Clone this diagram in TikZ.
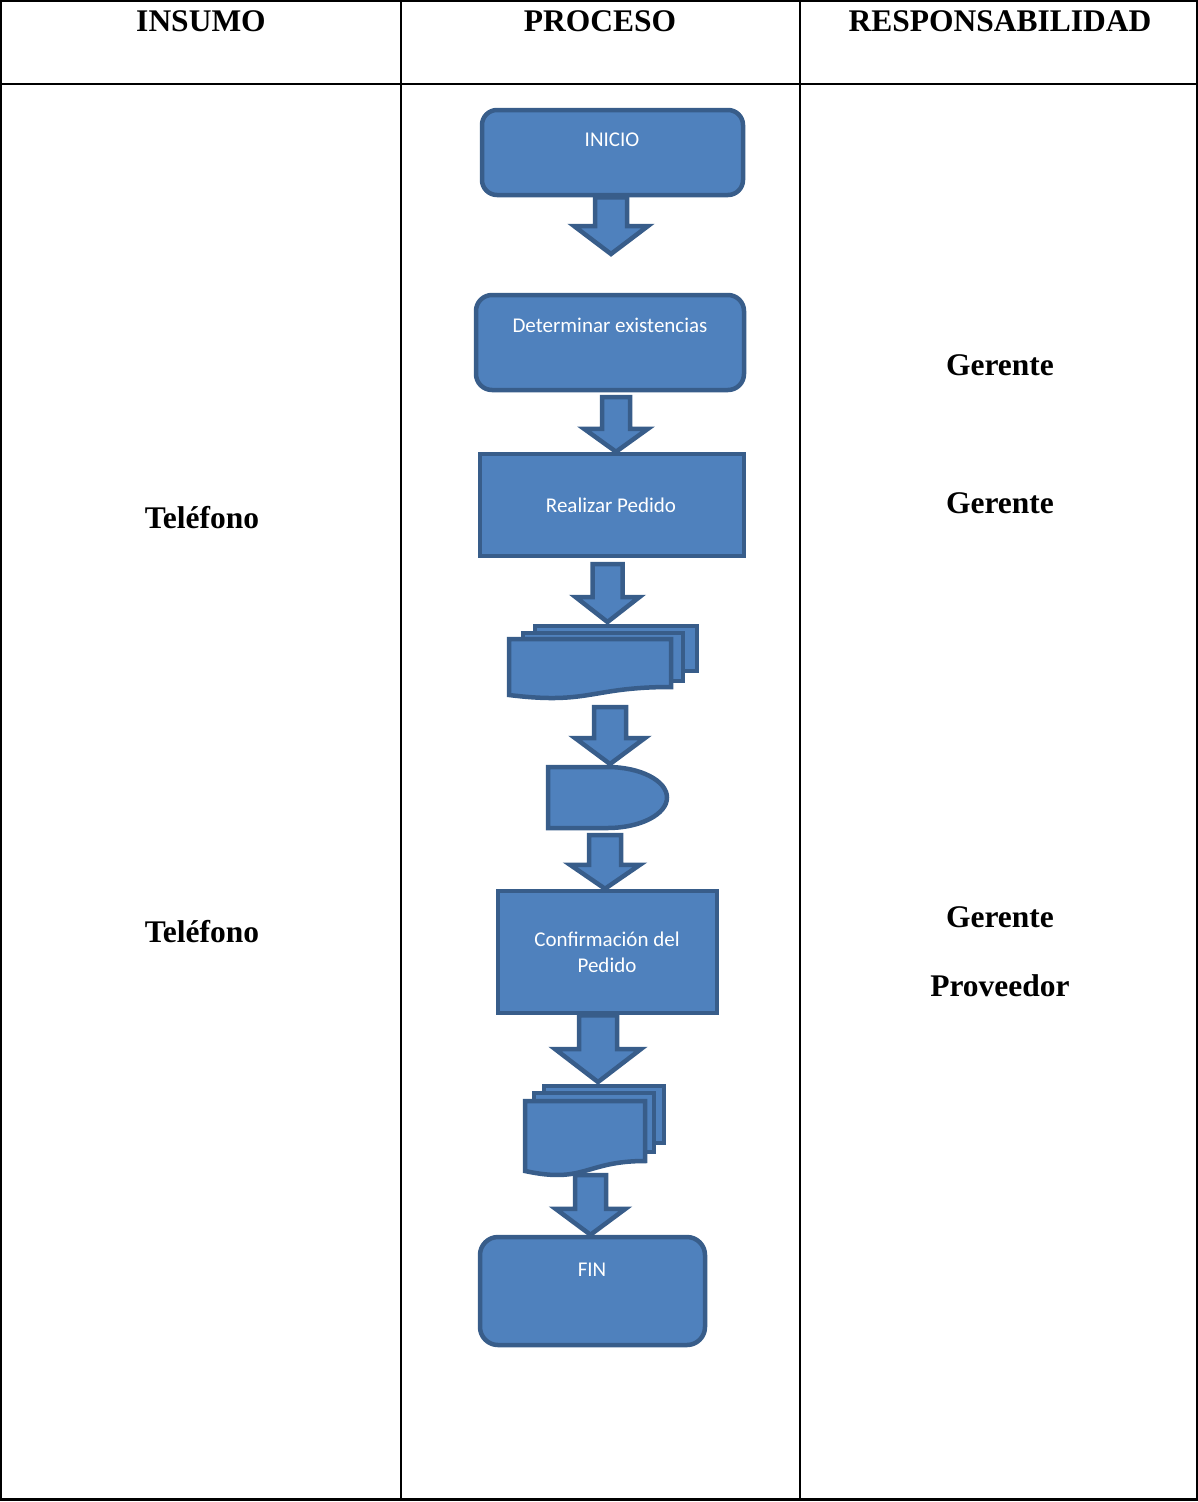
\documentclass[tikz,border=0pt]{standalone}
\usepackage{fontspec}
\setmainfont{Liberation Serif}
\newfontfamily\flowfont{Carlito}
\usetikzlibrary{calc}
\definecolor{boxfill}{HTML}{4F81BD}
\definecolor{boxline}{HTML}{385D8A}

\tikzset{
  shapestyle/.style={draw=boxline, fill=boxfill, line width=4.5pt},
  procbox/.style 2 args={shapestyle, rectangle, inner sep=0pt,
    minimum width=#1, minimum height=#2},
  termbox/.style n args={3}{procbox={#1}{#2}, rounded corners=#3},
  flowtext/.style={text=white, font=\flowfont\fontsize{21}{25}\selectfont,
    anchor=base, inner sep=0pt},
  tabletext/.style={font=\bfseries\fontsize{31.5}{38}\selectfont,
    anchor=base, inner sep=0pt},
  gridline/.style={line width=#1, black},
}

% block arrow from a start point (shaft top) to a tip point
% #3 = half shaft width, #4 = half head width, #5 = head length
\newcommand\blockarrow[5]{%
  \draw[shapestyle] let \p1=(#1), \p2=(#2) in
    (\x1-#3,\y1) -- (\x1-#3,\y2+#5) -- (\x1-#4,\y2+#5) -- (\x2,\y2)
    -- (\x1+#4,\y2+#5) -- (\x1+#3,\y2+#5) -- (\x1+#3,\y1) -- cycle;}

\begin{document}
\begin{tikzpicture}[x=1pt, y=-1pt]
\useasboundingbox (0,0) rectangle (1198,1502);

% ---- table grid ----
\draw[gridline=2pt] (1,1) rectangle (1197,1500);
\draw[gridline=3.5pt] (0,1499.5) -- (1198,1499.5);
\draw[gridline=2.5pt] (1,84) -- (1197,84);
\draw[gridline=1.8pt] (401,1) -- (401,1500);
\draw[gridline=1.8pt] (800,1) -- (800,1500);

% ---- headers ----
\node[tabletext] (hInsumo) at (201,31) {INSUMO};
\node[tabletext] (hProceso) at (600,31) {PROCESO};
\node[tabletext] (hResp) at (1000,31) {RESPONSABILIDAD};

% ---- input column ----
\node[tabletext] (tel1) at (202,528) {Teléfono};
\node[tabletext] (tel2) at (202,942) {Teléfono};

% ---- responsibility column ----
\node[tabletext] (resp1) at (1000,375) {Gerente};
\node[tabletext] (resp2) at (1000,513) {Gerente};
\node[tabletext] (resp3) at (1000,927) {Gerente};
\node[tabletext] (resp4) at (1000,996) {Proveedor};

% ---- flowchart boxes ----
\node[termbox={261pt}{85pt}{15pt}] (inicio) at (612.5,152.5) {};
\node[termbox={268pt}{95pt}{16pt}] (exist) at (610,342.5) {};
\node[procbox={264pt}{102pt}] (pedido) at (612,505) {};
\node[procbox={219pt}{122pt}] (confirm) at (607.5,952) {};
\node[termbox={225pt}{108pt}{18pt}] (fin) at (592.5,1291) {};

\node[flowtext] (tInicio) at (612,146) {INICIO};
\node[flowtext] (tExist) at (610,332) {Determinar existencias};
\node[flowtext] (tPedido) at (611,512) {Realizar Pedido};
\node[flowtext] (tConf1) at (607,946) {Confirmación del};
\node[flowtext] (tConf2) at (607,972) {Pedido};
\node[flowtext] (tFin) at (592,1276) {FIN};

% ---- first multi-document ----
\draw[shapestyle] (535,626) rectangle (697,671);
\draw[shapestyle] (523,633) rectangle (683,681);
\draw[shapestyle] (509,639) -- (671,639) -- (671,687)
  .. controls (590,687) and (590,705) .. (509,695) -- cycle;
\coordinate (docA) at (607.5,622);
\coordinate (docAb) at (610,707);

% ---- delay ----
\draw[shapestyle] (548,767) -- (607.5,767)
  .. controls (640.3,767) and (667,780.7) .. (667,797.5)
  .. controls (667,814.3) and (640.3,828) .. (607.5,828)
  -- (548,828) -- cycle;
\coordinate (delayT) at (610,764);
\coordinate (delayB) at (605,835);

% ---- second multi-document ----
\draw[shapestyle] (544,1086) rectangle (664,1143);
\draw[shapestyle] (534,1093) rectangle (654,1152);
\draw[shapestyle] (525,1101) -- (645,1101) -- (645,1161)
  .. controls (585,1161) and (585,1184) .. (525,1171) -- cycle;
\coordinate (docB) at (598,1082);
\coordinate (docBb) at (590.5,1175);

% ---- block arrows ----
\coordinate (a1s) at (inicio.south -| 611,0);
\coordinate (a1t) at (611,254);
\blockarrow{a1s}{a1t}{16pt}{37pt}{28pt}

\coordinate (a2s) at (616,397);
\coordinate (a2t) at (pedido.north -| 616,0);
\blockarrow{a2s}{a2t}{14pt}{32pt}{23pt}

\coordinate (a3s) at (607.5,564);
\coordinate (a3t) at (docA);
\blockarrow{a3s}{a3t}{15pt}{32pt}{25pt}

\coordinate (a4s) at (docAb);
\coordinate (a4t) at (delayT);
\blockarrow{a4s}{a4t}{16pt}{35pt}{26pt}

\coordinate (a5s) at (delayB);
\coordinate (a5t) at (confirm.north -| 605,0);
\blockarrow{a5s}{a5t}{16pt}{35pt}{24pt}

\coordinate (a6s) at (confirm.south -| 598,0);
\coordinate (a6t) at (docB);
\blockarrow{a6s}{a6t}{19pt}{43pt}{33pt}

\coordinate (a7s) at (docBb);
\coordinate (a7t) at (fin.north -| 590.5,0);
\blockarrow{a7s}{a7t}{15.5pt}{35pt}{26pt}
\end{tikzpicture}
\end{document}
